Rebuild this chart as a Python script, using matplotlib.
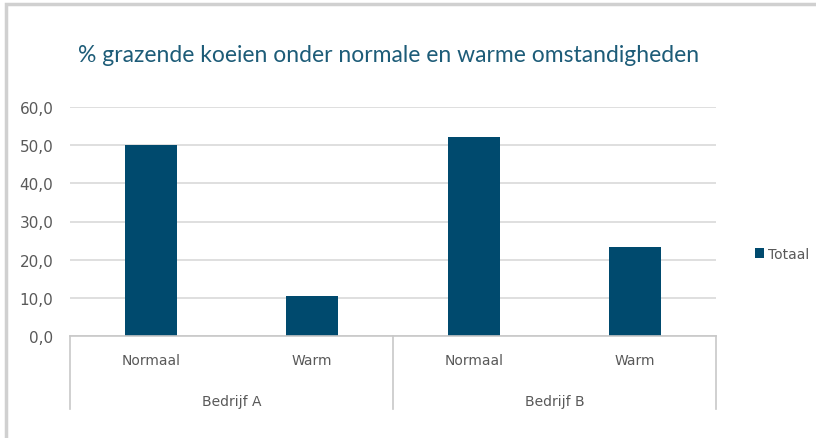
import matplotlib.pyplot as plt
from matplotlib.patches import Rectangle
import numpy as np

# data
categories = ["Normaal", "Warm", "Normaal", "Warm"]
groups = ["Bedrijf A", "Bedrijf B"]
totaal = [50.0, 10.5, 52.1, 23.3]
yticks = [0, 10, 20, 30, 40, 50, 60]

W, H = 816, 439
fig = plt.figure(figsize=(W / 100, H / 100), dpi=100)

# outer frame of the chart
fig.patches.append(Rectangle((6 / W, -0.05), 1.1, (H - 5) / H + 0.05, transform=fig.transFigure,
                             fill=False, edgecolor="#d0d0d0", linewidth=2.5))

left, right = 70 / W, 716 / W
bottom, top = (H - 337) / H, (H - 108) / H
ax = fig.add_axes([left, bottom, right - left, top - bottom])

x = np.arange(len(categories))
ax.bar(x, totaal, width=0.32, color="#004a6e", label="Totaal", zorder=3)
ax.set_xlim(-0.5, len(categories) - 0.5)
ax.set_ylim(0, 60)
ax.set_yticks(yticks)
ax.set_yticklabels([f"{v:.1f}".replace(".", ",") for v in yticks], fontsize=11, color="#595959")
ax.tick_params(axis="y", length=0, pad=12)
ax.set_xticks([])
ax.grid(axis="y", color="#d9d9d9", linewidth=1.2, zorder=0)
for s in ax.spines.values():
    s.set_visible(False)

# category axis with group separators
ax.plot([-0.5, 3.5], [0, 0], color="#c8c8c8", lw=1.2, clip_on=False, zorder=4)
for xs in [-0.5, 1.5, 3.5]:
    ax.plot([xs, xs], [0, -19], color="#c8c8c8", lw=1.2, clip_on=False)
for i, c in enumerate(categories):
    ax.text(i, -6.2, c, ha="center", va="center", fontsize=10, color="#595959")
for j, g in enumerate(groups):
    ax.text(2 * j + 0.5, -17, g, ha="center", va="center", fontsize=10, color="#595959")

fig.text(78 / W, 1 - 55 / H, "% grazende koeien onder normale en warme omstandigheden",
         fontsize=16.5, color="#1d5c78", family="Lato", va="center", ha="left")

fig.legend(loc="center left", bbox_to_anchor=(742 / W, 1 - 255 / H), frameon=False,
           fontsize=10, handlelength=0.7, handleheight=0.7, handletextpad=0.3,
           labelcolor="#595959")

fig.savefig("out.png", dpi=100)
